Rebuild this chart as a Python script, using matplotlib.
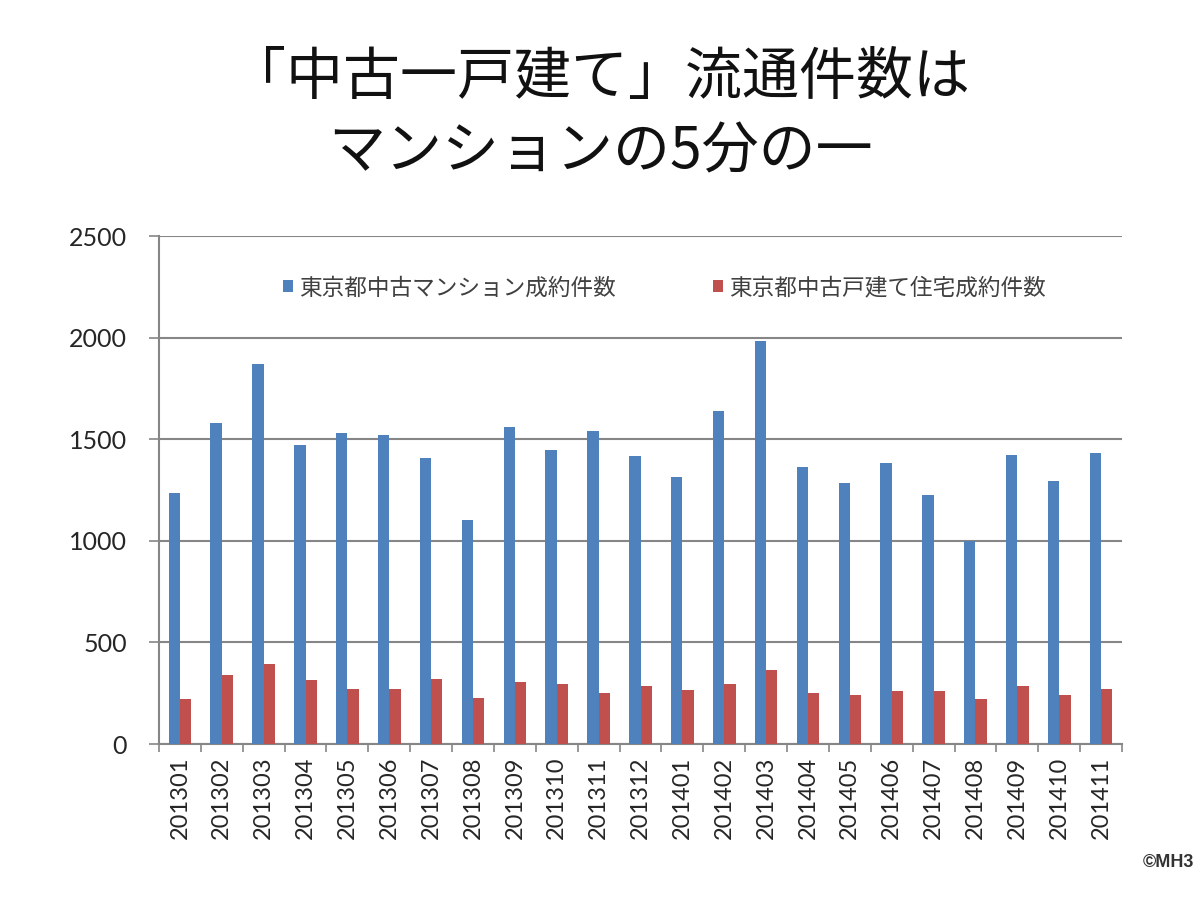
import matplotlib
matplotlib.use("Agg")
import matplotlib.pyplot as plt
import numpy as np
from matplotlib.patches import Patch

plt.rcParams['font.family'] = ['Lato', 'Noto Sans CJK JP', 'DejaVu Sans']

months = ["201301", "201302", "201303", "201304", "201305", "201306", "201307",
          "201308", "201309", "201310", "201311", "201312", "201401", "201402",
          "201403", "201404", "201405", "201406", "201407", "201408", "201409",
          "201410", "201411"]
mansion = [1234, 1579, 1870, 1474, 1530, 1523, 1406, 1105, 1561, 1449, 1543, 1419,
           1314, 1641, 1985, 1363, 1283, 1382, 1227, 998, 1424, 1296, 1431]
house = [222, 340, 396, 316, 273, 273, 321, 229, 303, 296, 253, 285,
         266, 296, 365, 253, 240, 260, 260, 222, 285, 240, 271]
series_names = ["東京都中古マンション成約件数", "東京都中古戸建て住宅成約件数"]
yticks = [0, 500, 1000, 1500, 2000, 2500]
title = "「中古一戸建て」流通件数は\nマンションの5分の一"

blue = "#4F81BD"
red = "#C0504D"
gray = "#868686"

fig = plt.figure(figsize=(12, 9), dpi=100)
ax = fig.add_axes([0.1325, 0.1733, 0.8025, 0.5644])

x = np.arange(len(months))
w = 0.27
ax.bar(x - w / 2, mansion, width=w, color=blue, zorder=3)
ax.bar(x + w / 2, house, width=w, color=red, zorder=3)

ax.set_xlim(-0.5, len(months) - 0.5)
ax.set_ylim(0, 2500)
ax.set_yticks(yticks)
ax.set_yticklabels([str(v) for v in yticks], fontsize=18, color="#262626")
ax.yaxis.grid(True, color=gray, linewidth=1.5, zorder=0)
ax.set_axisbelow(True)

ax.set_xticks(x)
ax.set_xticklabels(months, rotation=90, fontsize=17, color="#262626")
ax.set_xticks(np.arange(len(months) + 1) - 0.5, minor=True)
ax.tick_params(axis='x', which='major', length=0, pad=9)
ax.tick_params(axis='x', which='minor', length=6, color=gray, width=1.2)
ax.tick_params(axis='y', length=7, color=gray, width=1.2, pad=16)

for s in ["top", "right"]:
    ax.spines[s].set_visible(False)
for s in ["left", "bottom"]:
    ax.spines[s].set_color(gray)
    ax.spines[s].set_linewidth(1.5)

handles = [Patch(facecolor=blue), Patch(facecolor=red)]
leg = ax.legend(handles, series_names, loc="center", bbox_to_anchor=(0.525, 0.898),
                ncol=2, frameon=False, handlelength=0.45,
                handleheight=0.45, handletextpad=0.25, columnspacing=4.3,
                prop={'family': ['Noto Sans CJK JP'], 'size': 16.3})
for t in leg.get_texts():
    t.set_color("#404040")

fig.text(0.5, 0.872, title, ha="center", va="center", fontsize=41,
         family=['Noto Sans CJK JP'], linespacing=1.35, color="#111111")

fig.text(0.995, 0.042, "©MH3", ha="right", va="center", fontsize=13,
         family=['Liberation Sans'], weight='bold', color="#333333")

fig.savefig("out.png", dpi=100)
